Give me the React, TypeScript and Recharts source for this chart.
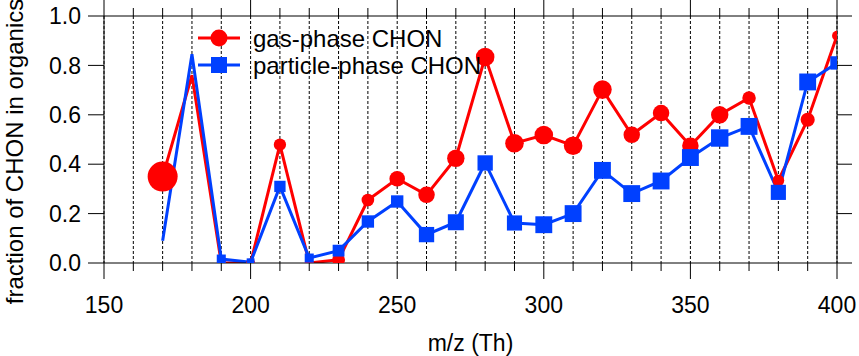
import React from 'react';
import { ComposedChart, Line, XAxis, YAxis, CartesianGrid, Legend } from 'recharts';

// m/z of each CHON bin
const mz = [170, 180, 190, 200, 210, 220, 230, 240, 250, 260, 270, 280, 290, 300, 310, 320, 330, 340, 350, 360, 370, 380, 390, 400];

// fraction of CHON in organics
const gasCHON = [0.35, 0.76, 0.0, 0.0, 0.479, 0.0, 0.013, 0.255, 0.341, 0.276, 0.424, 0.834, 0.485, 0.518, 0.475, 0.702, 0.519, 0.607, 0.475, 0.6, 0.668, 0.334, 0.58, 0.92];
const particleCHON = [0.09, 0.845, 0.016, 0.003, 0.31, 0.02, 0.05, 0.168, 0.249, 0.115, 0.165, 0.405, 0.162, 0.155, 0.2, 0.375, 0.281, 0.332, 0.427, 0.506, 0.553, 0.286, 0.733, 0.81];

// relative signal, shown as marker size (0 = no marker)
const gasSignal = [1.0, 0, 0.3, 0.3, 0.41, 0.3, 0.43, 0.42, 0.52, 0.55, 0.58, 0.62, 0.62, 0.62, 0.62, 0.62, 0.55, 0.55, 0.55, 0.58, 0.45, 0.39, 0.47, 0.33];
const particleSignal = [0, 0, 0.52, 0.45, 0.65, 0.52, 0.68, 0.71, 0.71, 0.88, 0.92, 0.88, 0.87, 0.97, 0.97, 0.97, 0.97, 0.97, 0.97, 1.0, 0.97, 0.87, 0.97, 0.77];

const xTicks = [150, 160, 170, 180, 190, 200, 210, 220, 230, 240, 250, 260, 270, 280, 290, 300, 310, 320, 330, 340, 350, 360, 370, 380, 390, 400];
const yTicks = [0, 0.2, 0.4, 0.6, 0.8, 1.0];

const seriesNames = ['gas-phase CHON', 'particle-phase CHON'];

const data = mz.map((m, i) => ({
  mz: m,
  gas: gasCHON[i],
  particle: particleCHON[i],
  gasW: gasSignal[i],
  particleW: particleSignal[i],
}));

const RED = '#ff0000';
const BLUE = '#0040ff';
const FONT = '"Liberation Sans", Arial, sans-serif';

const isMajor = (v: number) => v % 50 === 0;

const BottomTick = (props: any) => {
  const { x, y, payload } = props;
  const major = isMajor(payload.value);
  return (
    <g>
      <line x1={x} x2={x} y1={y} y2={y + (major ? 16 : 8)} stroke="#000" />
      {major && (
        <text x={x} y={y + 50} textAnchor="middle" fontSize={23} fontFamily={FONT} fill="#000">
          {payload.value}
        </text>
      )}
    </g>
  );
};

const TopTick = (props: any) => {
  const { x, y, payload } = props;
  const major = isMajor(payload.value);
  return <line x1={x} x2={x} y1={y} y2={y - (major ? 16 : 8)} stroke="#000" />;
};

const GasDot = (props: any) => {
  const { cx, cy, payload, index } = props;
  if (!payload.gasW) return <g key={`g${index}`} />;
  return <circle key={`g${index}`} cx={cx} cy={cy} r={15 * payload.gasW} fill={RED} />;
};

const ParticleDot = (props: any) => {
  const { cx, cy, payload, index } = props;
  if (!payload.particleW) return <g key={`p${index}`} />;
  const h = 8.7 * payload.particleW;
  return <rect key={`p${index}`} x={cx - h} y={cy - h} width={2 * h} height={2 * h} fill={BLUE} />;
};

const LegendBox = () => (
  <svg width={320} height={56}>
    {seriesNames.map((name, i) => {
      const cy = 14 + i * 27;
      const color = i === 0 ? RED : BLUE;
      return (
        <g key={name}>
          <line x1={0} x2={42} y1={cy} y2={cy} stroke={color} strokeWidth={3} />
          {i === 0 ? (
            <circle cx={21} cy={cy} r={8.5} fill={color} />
          ) : (
            <rect x={13} y={cy - 8} width={16} height={16} fill={color} />
          )}
          <text x={55} y={cy + 8.5} fontSize={24} fontFamily={FONT} fill="#000">
            {name}
          </text>
        </g>
      );
    })}
  </svg>
);

const XLabel = (props: any) => {
  const { viewBox } = props;
  return (
    <text x={viewBox.x + viewBox.width / 2} y={viewBox.y + 88} textAnchor="middle" fontSize={23} fontFamily={FONT} fill="#000">
      m/z (Th)
    </text>
  );
};

const YLabel = (props: any) => {
  const { viewBox } = props;
  const x = viewBox.x + viewBox.width - 90;
  const y = viewBox.y + viewBox.height / 2 + 12;
  return (
    <text x={x} y={y} transform={`rotate(-90 ${x} ${y})`} textAnchor="middle" dominantBaseline="central" fontSize={24} fontFamily={FONT} fill="#000">
      fraction of CHON in organics
    </text>
  );
};

export default function App() {
  return (
    <div style={{ position: 'absolute', left: 0, top: 0, background: '#fff' }}>
      <ComposedChart width={859} height={356} data={data} margin={{ top: 0, right: 6, bottom: 33, left: 24 }}>
        <CartesianGrid horizontal={false} stroke="#000" strokeDasharray="3 2" />
        <XAxis
          dataKey="mz"
          type="number"
          domain={[150, 400]}
          allowDataOverflow
          ticks={xTicks}
          interval={0}
          height={60}
          stroke="#000"
          tickLine={false}
          tickSize={0}
          tickMargin={0}
          tick={<BottomTick />}
          label={<XLabel />}
        />
        <XAxis
          xAxisId="top"
          orientation="top"
          dataKey="mz"
          type="number"
          domain={[150, 400]}
          allowDataOverflow
          ticks={xTicks}
          interval={0}
          height={16}
          stroke="#000"
          tickLine={false}
          tickSize={0}
          tickMargin={0}
          tick={<TopTick />}
        />
        <YAxis
          type="number"
          domain={[0, 1]}
          allowDataOverflow
          ticks={yTicks}
          interval={0}
          width={80}
          stroke="#000"
          tickSize={16}
          tickMargin={7}
          tickFormatter={(v: number) => v.toFixed(1)}
          tick={{ fill: '#000', fontSize: 23, fontFamily: FONT }}
          label={<YLabel />}
        />
        <YAxis
          yAxisId="right"
          orientation="right"
          type="number"
          domain={[0, 1]}
          allowDataOverflow
          ticks={yTicks}
          interval={0}
          width={16}
          stroke="#000"
          tickSize={15}
          tick={() => <g />}
        />
        <Legend
          layout="vertical"
          align="center"
          verticalAlign="middle"
          content={<LegendBox />}
          wrapperStyle={{ left: 198, top: 24, width: 320, height: 56 }}
        />
        <Line
          dataKey="gas"
          name={seriesNames[0]}
          stroke={RED}
          strokeWidth={3}
          dot={GasDot}
          activeDot={false}
          isAnimationActive={false}
        />
        <Line
          dataKey="particle"
          name={seriesNames[1]}
          stroke={BLUE}
          strokeWidth={3}
          dot={ParticleDot}
          activeDot={false}
          isAnimationActive={false}
        />
      </ComposedChart>
    </div>
  );
}
